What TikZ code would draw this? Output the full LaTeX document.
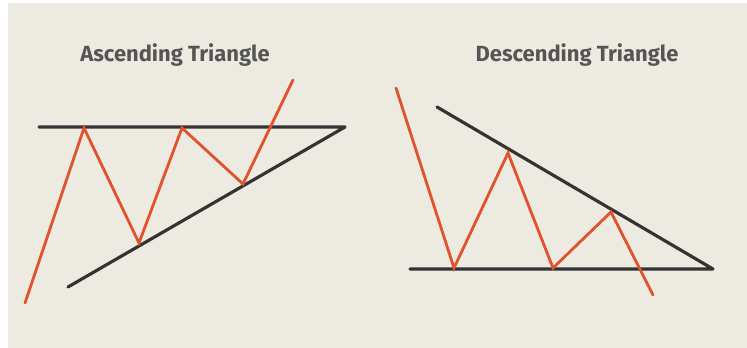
\documentclass[tikz,border=0pt]{standalone}
\usepackage{fontspec}
\setmainfont{Fira Sans}
\usepackage{xcolor}
\usepackage{tikz}
\usetikzlibrary{positioning, calc}
\definecolor{chart-bg}{HTML}{EDEAE2}
\definecolor{chart-line}{HTML}{333333}
\definecolor{chart-price}{HTML}{E0532C}
\definecolor{chart-title}{HTML}{555555}

\begin{document}
\begin{tikzpicture}[
		x=0.02cm, y=-0.02cm,
		trendline/.style={
			draw=chart-line, line width=1.8pt,
			line cap=round, line join=round
		},
		priceline/.style={
			draw=chart-price, line width=1.6pt,
			line cap=round, line join=miter
		},
		charttitle/.style={
			font=\bfseries\fontsize{12.5}{14}\selectfont\color{chart-title},
			inner sep=0pt
		}
		]
		
		% background
		\useasboundingbox (0,0) rectangle (747,348);
		\fill[white] (0,0) rectangle (747,348);
		\fill[chart-bg] (8,3) rectangle (747,348);
		
		% ascending triangle
		\node[charttitle] (asctitle) at (175,55) {Ascending Triangle};
		\coordinate (ascres1) at (39,127);
		\coordinate (ascapex) at (345,127);
		\coordinate (ascsup1) at (68,287);
		\draw[trendline] (ascres1) -- (ascapex) -- (ascsup1);
		
		\coordinate (asc0) at (25,303);
		\coordinate (asc1) at (84,128);
		\coordinate (asc2) at (139,243);
		\coordinate (asc3) at (182,128);
		\coordinate (asc4) at (243,184);
		\coordinate (asc5) at (293,80);
		\draw[priceline] (asc0) -- (asc1) -- (asc2) -- (asc3) -- (asc4) -- (asc5);
		
		% descending triangle
		\node[charttitle] (desctitle) at (577,55) {Descending Triangle};
		\coordinate (descres1) at (437,107);
		\coordinate (descapex) at (713,269);
		\coordinate (descsup1) at (410,269);
		\draw[trendline] (descres1) -- (descapex) -- (descsup1);
		
		\coordinate (desc0) at (396,88);
		\coordinate (desc1) at (454,268);
		\coordinate (desc2) at (508,153);
		\coordinate (desc3) at (553,268);
		\coordinate (desc4) at (611,212);
		\coordinate (desc5) at (653,295);
		\draw[priceline] (desc0) -- (desc1) -- (desc2) -- (desc3) -- (desc4) -- (desc5);
		
	\end{tikzpicture}
\end{document}
